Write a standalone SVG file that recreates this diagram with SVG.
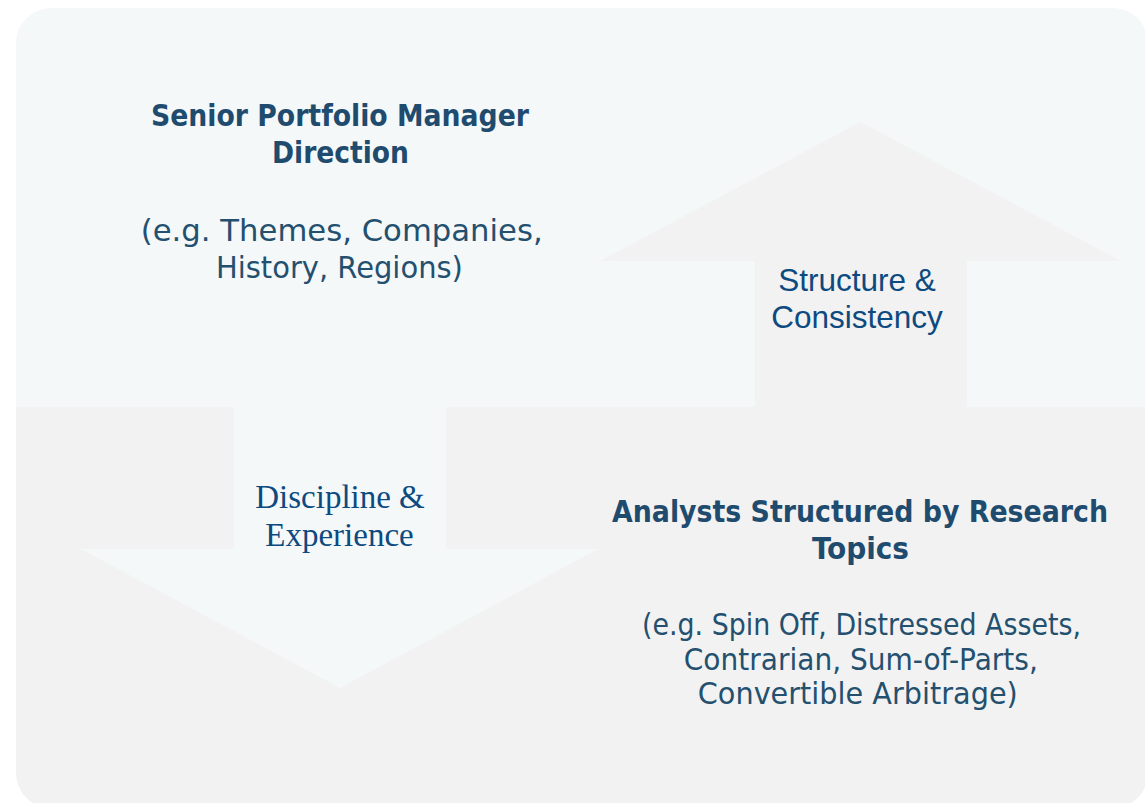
<svg xmlns="http://www.w3.org/2000/svg" width="1145" height="803" viewBox="0 0 1145 803">
  <style>
    .head { font-family: "DejaVu Sans Condensed", "DejaVu Sans", sans-serif; font-weight: bold; font-size: 30px; fill: #1f4b6e; text-anchor: middle; }
    .sub { font-family: "DejaVu Sans", sans-serif; font-size: 30.5px; fill: #24506f; text-anchor: middle; }
    .lbl-sans { font-family: "Liberation Sans", Arial, sans-serif; font-size: 31.5px; fill: #0d4a80; text-anchor: middle; }
    .lbl-serif { font-family: "Liberation Serif", "Times New Roman", serif; font-size: 33px; fill: #0d4a80; text-anchor: middle; }
    .upper { fill: #f4f8f9; }
    .lower { fill: #f2f2f2; }
  </style>
  <defs>
    <clipPath id="panelClip">
      <rect x="16" y="8" width="1132" height="800" rx="35" ry="35"/>
    </clipPath>
  </defs>

  <rect width="1145" height="803" fill="#ffffff"/>

  <!-- rounded panel, split into an upper and a lower band -->
  <g id="panel" clip-path="url(#panelClip)">
    <rect class="upper" x="16" y="8" width="1132" height="399"/>
    <rect class="lower" x="16" y="407" width="1132" height="401"/>
  </g>

  <!-- block arrows between the two levels -->
  <g id="connectors">
    <g id="arrow-up">
      <polygon class="lower" points="860.5,122 1121,261 967,261 967,408 755,408 755,261 600,261"/>
      <text class="lbl-sans"><tspan x="857" y="291">Structure &amp;</tspan><tspan x="857" y="328">Consistency</tspan></text>
    </g>
    <g id="arrow-down">
      <polygon class="upper" points="234,406 446,406 446,549 598,549 340,688 81,549 234,549"/>
      <text class="lbl-serif"><tspan x="340" y="507.5">Discipline &amp;</tspan><tspan x="339.5" y="546">Experience</tspan></text>
    </g>
  </g>

  <g id="node-senior-pm">
    <text class="head" x="340" y="126" textLength="378" lengthAdjust="spacingAndGlyphs">Senior Portfolio Manager</text>
    <text class="head" x="340.5" y="163" textLength="137" lengthAdjust="spacingAndGlyphs">Direction</text>
    <text class="sub" x="341.7" y="241" textLength="402" lengthAdjust="spacingAndGlyphs">(e.g. Themes, Companies,</text>
    <text class="sub" x="339.4" y="278" textLength="247" lengthAdjust="spacingAndGlyphs">History, Regions)</text>
  </g>

  <g id="node-analysts">
    <text class="head" x="860" y="522" textLength="496" lengthAdjust="spacingAndGlyphs">Analysts Structured by Research</text>
    <text class="head" x="860.5" y="559" textLength="97" lengthAdjust="spacingAndGlyphs">Topics</text>
    <text class="sub" x="861.5" y="635" textLength="439" lengthAdjust="spacingAndGlyphs">(e.g. Spin Off, Distressed Assets,</text>
    <text class="sub" x="860.8" y="670" textLength="354" lengthAdjust="spacingAndGlyphs">Contrarian, Sum-of-Parts,</text>
    <text class="sub" x="857.8" y="704" textLength="320" lengthAdjust="spacingAndGlyphs">Convertible Arbitrage)</text>
  </g>
</svg>
